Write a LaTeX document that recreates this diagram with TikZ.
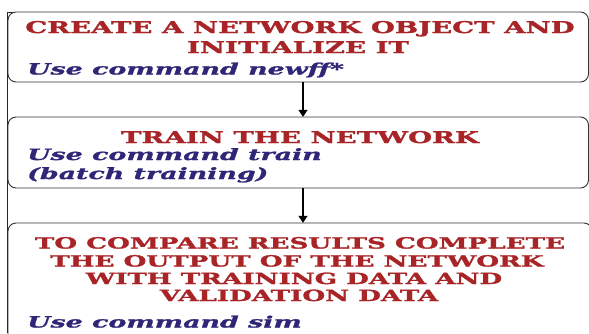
\documentclass[tikz,border=0pt]{standalone}
\usepackage{fontspec}
\usetikzlibrary{arrows.meta}
\newfontfamily\headfont{DejaVu Serif}[FakeStretch=1.70, FakeBold=1.8]
\newfontfamily\cmdfont{DejaVu Serif}[FakeStretch=1.72, FakeBold=1.3]
\definecolor{titlered}{RGB}{168,36,38}
\definecolor{cmdblue}{RGB}{46,38,118}
\tikzset{
  stepbox/.style={draw=black!80, line width=0.9pt, rounded corners=8pt, fill=white},
  headline/.style={anchor=base, inner sep=0pt, text=titlered,
    font=\headfont\bfseries\fontsize{16.2}{18}\selectfont},
  smallhead/.style={headline, font=\headfont\bfseries\fontsize{15.4}{18}\selectfont},
  cmdline/.style={anchor=base west, inner sep=0pt, text=cmdblue,
    font=\cmdfont\bfseries\itshape\fontsize{15.6}{18}\selectfont},
  flow/.style={line width=1.1pt, -{Triangle[length=7pt,width=9pt]}}
}
\begin{document}
\begin{tikzpicture}[x=1pt, y=-1pt]
\useasboundingbox (0,0) rectangle (589,333);
\fill[white] (0,0) rectangle (589,333);

% outer frame edges
\draw[black!85, line width=0.9pt] (7,333) -- (7,12) -- (300,12);

% step boxes
\draw[stepbox] (8,12) rectangle (588.5,82);
\draw[stepbox] (8,117) rectangle (588.5,188);
\draw[stepbox] (8,223) rectangle (592,350);
\node[inner sep=0pt, minimum width=580.5pt, minimum height=70pt] (box1) at (298.25,47) {};
\node[inner sep=0pt, minimum width=580.5pt, minimum height=71pt] (box2) at (298.25,152.5) {};
\node[inner sep=0pt, minimum width=584pt, minimum height=127pt] (box3) at (300,286.5) {};

% box 1
\node[headline] (t1a) at (300,33) {CREATE A NETWORK OBJECT AND};
\node[headline] (t1b) at (298,53) {INITIALIZE IT};
\node[cmdline] (c1) at (27,74.5) {Use command newff*};

% box 2
\node[headline] (t2a) at (300,143) {TRAIN THE NETWORK};
\node[cmdline] (c2a) at (27,160) {Use command train};
\node[cmdline] (c2b) at (27,179) {(batch training)};

% box 3
\node[smallhead] (t3a) at (300,248.5) {TO COMPARE RESULTS COMPLETE};
\node[smallhead] (t3b) at (297,266.5) {THE OUTPUT OF THE NETWORK};
\node[smallhead] (t3c) at (294,284) {WITH TRAINING DATA AND};
\node[smallhead] (t3d) at (299,301) {VALIDATION DATA};
\node[cmdline] (c3) at (27,327.5) {Use command sim};

% connectors
\draw[flow] ([xshift=4.75pt]box1.south) -- ([xshift=4.75pt]box2.north);
\draw[flow] ([xshift=4.75pt]box2.south) -- ([xshift=3pt]box3.north);
\end{tikzpicture}
\end{document}
